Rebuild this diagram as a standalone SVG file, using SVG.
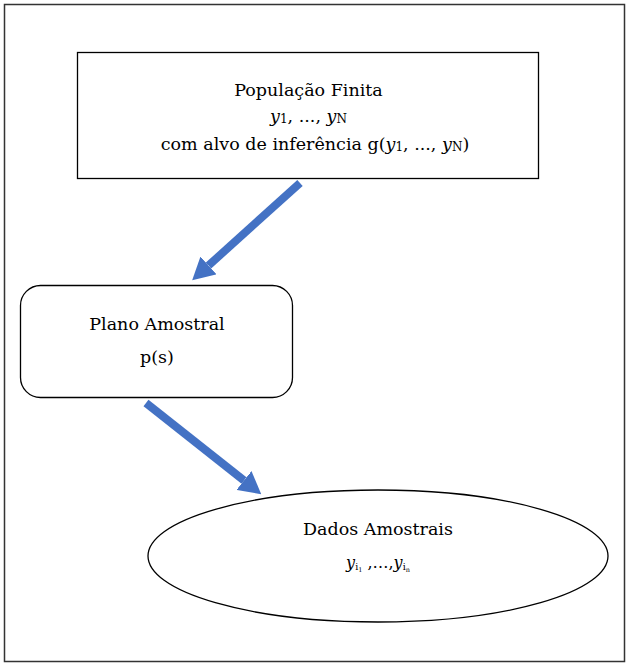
<svg xmlns="http://www.w3.org/2000/svg" width="630" height="667" viewBox="0 0 630 667">
<defs>
<style>
.shape{fill:#fff;stroke:#000;stroke-width:1.3}
.frame{fill:none;stroke:#333;stroke-width:1.5}
.t{font-family:"DejaVu Serif","Liberation Serif",serif;font-size:17.5px;fill:#000;text-anchor:middle}
.i{font-style:italic}
.sub{font-size:12px}
.conn{stroke:#4472C4;stroke-width:8;fill:none;stroke-linecap:butt}
</style>
<marker id="head" markerUnits="userSpaceOnUse" markerWidth="22" markerHeight="24" refX="0" refY="12" orient="auto" viewBox="0 0 22 24">
<path d="M0,0 L22,12 L0,24 z" fill="#4472C4"/>
</marker>
</defs>
<rect width="630" height="667" fill="#fff"/>
<rect class="frame" x="4.5" y="4.5" width="620" height="657"/>
<g id="populacao">
<rect class="shape" x="77.5" y="52.5" width="461" height="126"/>
<text class="t" x="308.5" y="96">População Finita</text>
<text class="t" x="308.5" y="122"><tspan class="i">y</tspan><tspan class="sub" dy="1">1</tspan><tspan dy="-1">, ..., </tspan><tspan class="i">y</tspan><tspan class="sub" dy="1">N</tspan></text>
<text class="t" x="315" y="150">com alvo de inferência g(<tspan class="i">y</tspan><tspan class="sub" dy="1">1</tspan><tspan dy="-1">, ..., </tspan><tspan class="i">y</tspan><tspan class="sub" dy="1">N</tspan><tspan dy="-1">)</tspan></text>
</g>
<g id="plano">
<rect class="shape" x="20.5" y="285.5" width="272" height="112" rx="20" ry="20"/>
<text class="t" x="157" y="330">Plano Amostral</text>
<text class="t" x="157" y="363">p(s)</text>
</g>
<g id="dados">
<ellipse class="shape" cx="378" cy="556" rx="230" ry="66"/>
<text class="t" x="378" y="568" style="font-size:16px"><tspan class="i">y</tspan><tspan style="font-size:9.5px" dy="2">i</tspan><tspan style="font-size:6.5px" dy="2">1</tspan><tspan dy="-4"> ,…,</tspan><tspan class="i">y</tspan><tspan style="font-size:9.5px" dy="2">i</tspan><tspan style="font-size:6.5px" dy="2">n</tspan></text>
<text class="t" x="378" y="535">Dados Amostrais</text>
</g>
<g id="connectors">
<line class="conn" x1="300" y1="183" x2="208.5" y2="265.5" marker-end="url(#head)"/>
<line class="conn" x1="146" y1="403" x2="244" y2="480.5" marker-end="url(#head)"/>
</g>
</svg>
